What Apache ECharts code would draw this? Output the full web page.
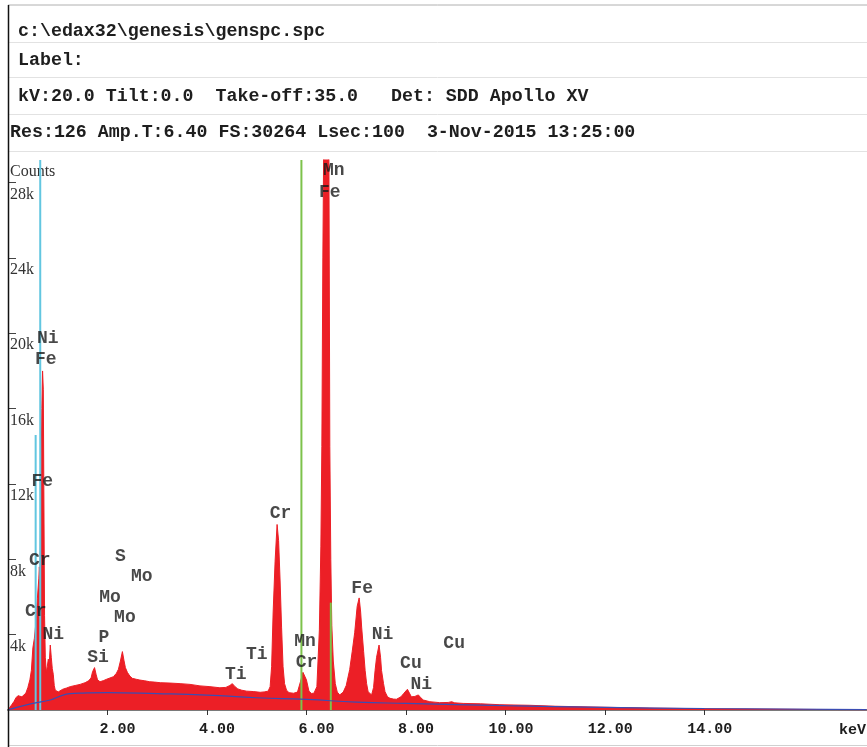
<!DOCTYPE html>
<html>
<head>
<meta charset="utf-8">
<script src="https://cdn.jsdelivr.net/npm/echarts@6/dist/echarts.min.js"></script>
<style>
html,body{margin:0;padding:0;background:#fff;}
#chart{width:867px;height:747px;}
</style>
</head>
<body>
<div id="chart"></div>
<script>
// ---- Spectrum (keV, counts) ----
var specE = [0.00,0.04,0.08,0.12,0.16,0.20,0.24,0.28,0.32,0.36,0.40,0.44,0.47,0.50,0.53,0.56,0.59,0.62,0.63,0.645,0.66,0.68,0.695,0.71,0.72,0.735,0.75,0.77,0.79,0.81,0.83,0.85,0.87,0.89,0.91,0.93,0.95,0.98,1.01,1.05,1.10,1.18,1.25,1.35,1.45,1.55,1.62,1.67,1.70,1.74,1.77,1.80,1.85,1.92,1.98,2.05,2.12,2.18,2.22,2.26,2.30,2.33,2.36,2.40,2.45,2.50,2.58,2.65,2.75,2.85,2.95,3.06,3.26,3.46,3.66,3.86,4.06,4.26,4.38,4.46,4.51,4.56,4.62,4.70,4.80,4.93,5.07,5.15,5.23,5.27,5.30,5.33,5.37,5.41,5.44,5.47,5.50,5.53,5.56,5.60,5.65,5.74,5.82,5.88,5.93,5.96,6.00,6.05,6.10,6.15,6.21,6.26,6.29,6.31,6.33,6.35,6.38,6.40,6.42,6.45,6.47,6.49,6.51,6.54,6.58,6.62,6.67,6.74,6.80,6.87,6.92,6.97,7.02,7.06,7.09,7.11,7.15,7.18,7.21,7.24,7.31,7.35,7.38,7.41,7.46,7.49,7.51,7.55,7.58,7.63,7.68,7.75,7.81,7.90,7.96,8.03,8.07,8.11,8.18,8.25,8.30,8.35,8.48,8.68,8.85,8.92,8.98,9.15,9.50,9.89,10.49,11.00,11.90,12.90,13.90,15.00,16.00,17.26];
var specC = [0,150,300,450,650,760,720,700,780,900,1200,1600,2100,3300,3800,4600,5900,7000,7600,7000,11500,16000,18000,17000,12000,5000,2800,2000,2300,2700,2500,3450,2800,2200,1900,1300,1050,950,960,1050,1100,1170,1240,1300,1360,1450,1550,1700,2030,2250,1900,1600,1500,1560,1630,1700,1770,1950,2160,2600,3100,2650,2250,2000,1800,1680,1630,1590,1550,1500,1480,1450,1430,1400,1360,1280,1240,1180,1200,1300,1400,1250,1120,1050,1000,980,940,960,1000,1240,2300,5150,7900,9850,9000,6900,4400,2300,1400,1050,920,890,950,1500,2000,2030,1600,1000,880,890,1240,4250,8700,14000,24000,31000,40000,42000,40000,31000,14000,8000,4500,2600,1400,950,800,950,1300,2150,3100,4100,5500,5950,5200,4400,3100,2100,1400,970,800,1200,2100,2800,3450,2800,2100,1400,970,700,620,580,570,700,890,1100,900,700,720,800,650,530,440,390,400,440,380,350,330,280,250,200,150,100,70,50,30,10];

// ---- Background fit ----
var bgE = [0,0.05,0.5,0.85,1.05,1.25,1.5,2.0,3.0,4.0,5.0,6.0,7.0,8.0,10.0,12.0,14.0,17.26];
var bgC = [0,50,350,530,740,870,900,920,870,790,650,560,420,350,230,140,80,20];

// ---- Element marker lines (keV, height) ----
var markerE = [0.556, 0.648, 5.899, 6.490];
var markerH = [14600, 29200, 29200, 5700];
var markerColor = ['#62c6e0', '#62c6e0', '#7dc24b', '#7dc24b'];

// ---- Peak labels ----
var peakText = ['Ni','Fe','Fe','Cr','Cr','Ni','Si','P','Mo','Mo','S','Mo','Ti','Ti','Cr','Mn','Cr','Mn','Fe','Fe','Ni','Cu','Ni','Cu'];
var peakE =    [0.80,0.76,0.69,0.64,0.56,0.91,1.81,1.93,2.05,2.35,2.26,2.69,4.58,5.00,5.48,5.97,6.00,6.55,6.47,7.12,7.53,8.10,8.31,8.97];
var peakC =    [19700,18600,12150,7930,5240,4030,2770,3840,5960,4920,8170,7080,1910,2970,10460,3620,2550,28640,27480,6460,4000,2450,1340,3510];

// ---- Axis ticks ----
var xTicks = [2,4,6,8,10,12,14];
var yTicks = [4000,8000,12000,16000,20000,24000,28000];

var mono = '"Courier New","Liberation Mono",monospace';
var serif = '"Times New Roman","Liberation Serif",serif';

var series = [];
series.push({
  type:'line', name:'spectrum',
  data: specE.map(function(e,i){return [e, specC[i]];}),
  showSymbol:false, symbol:'none', clip:true, smooth:false,
  lineStyle:{color:'#ec1f26', width:1},
  areaStyle:{color:'#ec1f26', opacity:1},
  z:2, silent:true, animation:false
});
series.push({
  type:'line', name:'background',
  data: bgE.map(function(e,i){return [e, bgC[i]];}),
  showSymbol:false, symbol:'none', smooth:true,
  lineStyle:{color:'#3b4db3', width:1.2},
  z:4, silent:true, animation:false
});
markerE.forEach(function(e,i){
  series.push({
    type:'line', data:[[e,0],[e,markerH[i]]],
    showSymbol:false, symbol:'none',
    lineStyle:{color:markerColor[i], width:2},
    z:3, silent:true, animation:false
  });
});
series.push({
  type:'scatter',
  data: peakE.map(function(e,i){return [e, peakC[i], peakText[i]];}),
  symbolSize:0, silent:true, animation:false, z:6,
  label:{show:true, position:'inside', formatter:function(p){return p.value[2];},
    fontFamily:mono, fontWeight:'bold', fontSize:18, color:'#1a1a1a'}
});

var chart = echarts.init(document.getElementById('chart'), null, {renderer:'canvas'});
var hdrLines = [5, 42.5, 77.5, 114.5, 151.5];
var graphic = [];
hdrLines.forEach(function(y,i){
  graphic.push({type:'line', shape:{x1:8, y1:y, x2:867, y2:y}, style:{stroke: i===0 ? '#b0b0b0' : '#e2e2e2', lineWidth:1}, silent:true});
});
graphic.push({type:'line', shape:{x1:8, y1:745.5, x2:867, y2:745.5}, style:{stroke:'#d0d0d0', lineWidth:1}, silent:true});
graphic.push({type:'line', shape:{x1:8.5, y1:5, x2:8.5, y2:747}, style:{stroke:'#111', lineWidth:1.5}, silent:true, z:10});
var hdrText = [
  ['c:\\edax32\\genesis\\genspc.spc', 18, 32],
  ['Label:', 18, 61],
  ['kV:20.0 Tilt:0.0  Take-off:35.0   Det: SDD Apollo XV', 18, 97],
  ['Res:126 Amp.T:6.40 FS:30264 Lsec:100  3-Nov-2015 13:25:00', 10, 133]
];
hdrText.forEach(function(t){
  graphic.push({type:'text', left:t[1], top:t[2]-10, silent:true,
    style:{text:t[0], font:'bold 18.3px '+mono, fill:'#1e1e1e', textVerticalAlign:'top'}});
});
graphic.push({type:'text', left:10, top:164, silent:true, style:{text:'Counts', font:'16px '+serif, fill:'#333'}});
graphic.push({type:'text', right:1, top:723, silent:true, style:{text:'keV', font:'bold 15px '+mono, fill:'#1e1e1e'}});

chart.setOption({
  animation:false,
  backgroundColor:'#fff',
  grid:{left:8, right:0, top:160, bottom:37, containLabel:false},
  xAxis:{type:'value', min:0, max:17.27, interval:2,
    axisLine:{show:true, lineStyle:{color:'#7a7a7a', width:2}},
    axisTick:{show:true, customValues:xTicks, length:5, lineStyle:{color:'#333', width:1}},
    axisLabel:{show:true, customValues:xTicks, margin:12, align:'center',
      formatter:function(v){return '{a|'+v.toFixed(2)+'}';},
      rich:{a:{width:56, align:'right', fontFamily:mono, fontWeight:'bold', fontSize:15, color:'#1e1e1e'}},
      fontFamily:mono, fontWeight:'bold', fontSize:15, color:'#1e1e1e'},
    splitLine:{show:false}},
  yAxis:{type:'value', min:0, max:29200, interval:4000,
    axisLine:{show:false},
    axisTick:{show:true, inside:true, customValues:yTicks, length:8, lineStyle:{color:'#444', width:1}},
    axisLabel:{show:true, inside:true, customValues:yTicks, margin:2, verticalAlign:'top', align:'left',
      padding:[4,0,0,0],
      formatter:function(v){return (v/1000)+'k';},
      fontFamily:serif, fontSize:16, color:'#333'},
    splitLine:{show:false}},
  graphic: graphic,
  series: series
});
</script>
</body>
</html>
